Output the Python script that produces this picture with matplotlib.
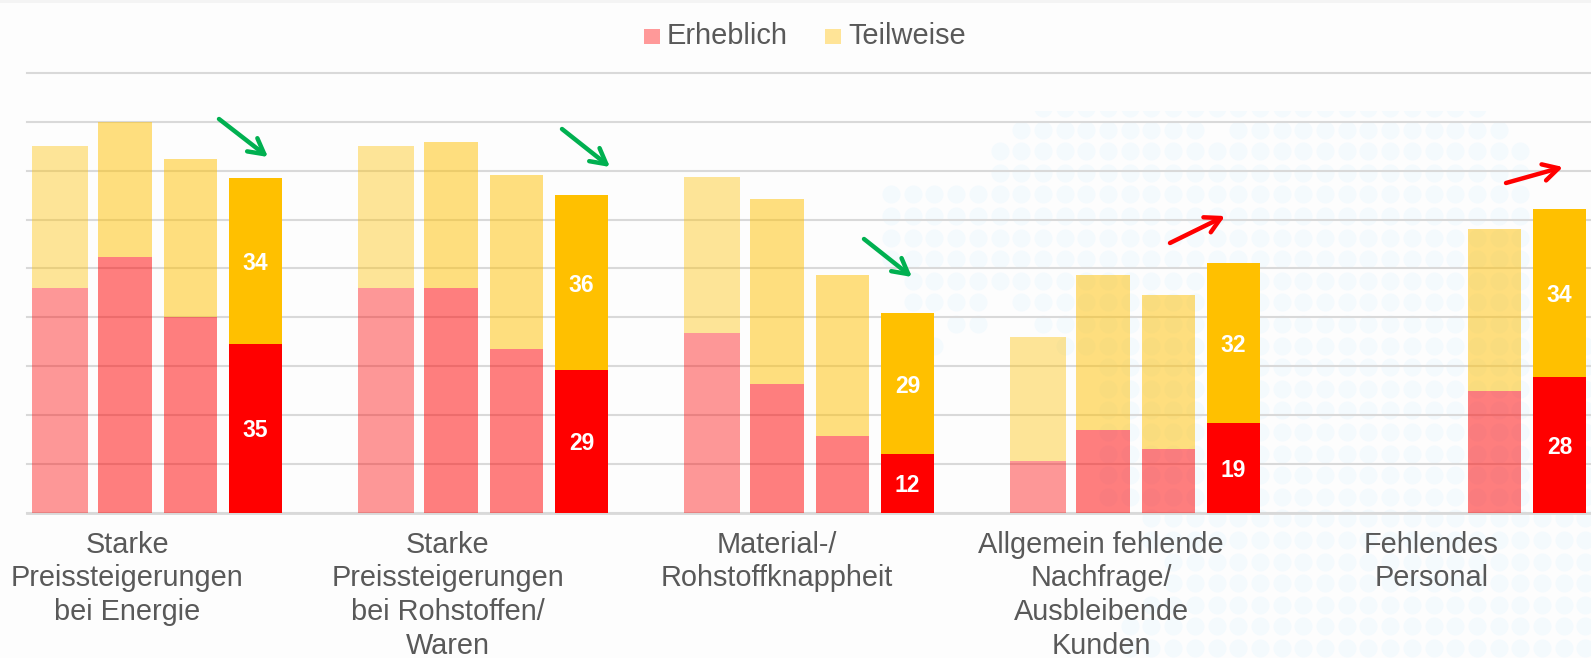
import numpy as np
import matplotlib
matplotlib.use("Agg")
import matplotlib.pyplot as plt
from matplotlib.patches import Rectangle

plt.rcParams['font.family'] = ['Liberation Sans', 'DejaVu Sans']

W, H = 1591, 658
TEXT = '#595959'
GRID = '#d9d9d9'

categories = ['Starke\nPreissteigerungen\nbei Energie',
              'Starke\nPreissteigerungen\nbei Rohstoffen/\nWaren',
              'Material-/\nRohstoffknappheit',
              'Allgemein fehlende\nNachfrage/\nAusbleibende\nKunden',
              'Fehlendes\nPersonal']

# one row per category, one column per survey wave (heights)
erheblich = [[46, 52.4, 40, 34.6],
             [46, 46, 33.5, 29.1],
             [36.8, 26.3, 15.6, 11.9],
             [10.6, 16.8, 13.1, 18.4],
             [np.nan, np.nan, 24.9, 27.8]]
teilweise = [[29, 27.6, 32.4, 33.8],
             [29, 29.8, 35.6, 35.9],
             [31.9, 37.9, 33.1, 29],
             [25.4, 31.9, 31.5, 32.7],
             [np.nan, np.nan, 33.2, 34.4]]
erheblich_labels = [35, 29, 12, 19, 28]
teilweise_labels = [34, 36, 29, 32, 34]

# older waves are faded, the newest is solid
wave_alpha = [0.4, 0.5, 0.5, 1.0]
wave_width = [0.855, 0.82, 0.82, 0.82]

# trend arrows, pixels of the picture: start x, start y, end x, end y, colour
arrows = [(219, 119, 268, 157, '#00B050'),
          (562, 129, 610, 167, '#00B050'),
          (864, 239, 912, 277, '#00B050'),
          (1170, 243, 1225, 216, '#FF0000'),
          (1506, 183, 1563, 167, '#FF0000')]

# light dot map behind the chart: row y -> x spans
dot_rows = [(108, [(1042, 1190), (1219, 1300), (1325, 1474)]),
            (130, [(1022, 1210), (1235, 1496)]),
            (151, [(999, 1516)]),
            (173, [(943, 950), (999, 1516)]),
            (194, [(891, 1516)]),
            (216, [(891, 1535)]),
            (238, [(891, 1535)]),
            (259, [(891, 1535)]),
            (281, [(911, 1535)]),
            (302, [(911, 974), (1022, 1535)]),
            (324, [(956, 975), (1042, 1535)]),
            (346, [(936, 950), (1067, 1591)]),
            (367, [(1103, 1591)]),
            (389, [(1103, 1591)]),
            (410, [(1103, 1591)]),
            (432, [(1103, 1591)]),
            (454, [(1103, 1591)]),
            (475, [(1103, 1591)]),
            (497, [(1103, 1591)]),
            (518, [(1153, 1591)]),
            (540, [(1153, 1591)]),
            (562, [(1170, 1591)]),
            (583, [(1175, 1591)]),
            (605, [(1135, 1591)]),
            (626, [(1130, 1591)]),
            (648, [(1130, 1591)])]

fig = plt.figure(figsize=(W / 100, H / 100), dpi=100, facecolor='#FDFDFD')

# background layer in picture pixels
bg = fig.add_axes([0, 0, 1, 1])
bg.set_xlim(0, W)
bg.set_ylim(H, 0)
bg.axis('off')
bg.add_patch(Rectangle((0, 0), W, 3, color='#F4F4F4', lw=0))
clip = Rectangle((0, 111), W, H, transform=bg.transData)
lattice = 891 + 21.7 * np.arange(-2, 33)
for row_y, spans in dot_rows:
    for x0, x1 in spans:
        xs = lattice[(lattice >= x0 - 5) & (lattice <= x1 + 5)]
        dots = bg.scatter(xs, np.full(len(xs), row_y), s=170, color='#F4FAFD', lw=0)
        dots.set_clip_path(clip)

left, base, top = 27, 512.5, 73
ax = fig.add_axes([left / W, 1 - base / H, 1 - left / W, (base - top) / H])
ax.patch.set_alpha(0)
pitch = 65.2
first = 60
ax.set_xlim((left - first) / pitch, (W - first) / pitch)
ax.set_ylim(0, 90)

for i in range(len(categories)):
    slots = i * 5 + np.arange(4)
    for j, x in enumerate(slots):
        e, t = erheblich[i][j], teilweise[i][j]
        if np.isnan(e):
            continue
        ax.bar(x, e, width=wave_width[j], color='#FF0000', lw=0, zorder=3, alpha=wave_alpha[j])
        ax.bar(x, t, bottom=e, width=wave_width[j], color='#FFC000', lw=0, zorder=3,
               alpha=wave_alpha[j])
    x = slots[3]
    e, t = erheblich[i][3], teilweise[i][3]
    ax.text(x, e / 2, str(erheblich_labels[i]), color='white', fontsize=16.5,
            fontweight='bold', ha='center', va='center_baseline', zorder=5)
    ax.text(x, e + t / 2, str(teilweise_labels[i]), color='white', fontsize=16.5,
            fontweight='bold', ha='center', va='center_baseline', zorder=5)

ax.set_yticks(np.arange(0, 91, 10))
ax.set_yticklabels([])
ax.grid(axis='y', color=GRID, lw=1.5, zorder=1, clip_on=False)
ax.set_axisbelow(True)
ax.tick_params(length=0)
for s in ['top', 'left', 'right']:
    ax.spines[s].set_visible(False)
ax.spines['bottom'].set_color(GRID)
ax.spines['bottom'].set_linewidth(2)

# category labels sit left of the bar groups in the original
ax.set_xticks([1.03, 5.95, 11.0, 15.97, 21.03])
ax.set_xticklabels(categories, fontsize=20.8, color=TEXT, linespacing=1.26)
ax.tick_params(axis='x', pad=13)

# legend by hand to keep its exact spot
bg.add_patch(Rectangle((644, 29), 16, 15, color='#FF9999', lw=0))
bg.text(667, 36, 'Erheblich', fontsize=20.9, color=TEXT, va='center')
bg.add_patch(Rectangle((825, 29), 16, 15, color='#FFE497', lw=0))
bg.text(848, 36, 'Teilweise', fontsize=20.9, color=TEXT, va='center')

for x0, y0, x1, y1, c in arrows:
    ax.annotate('', xy=(x1, H - y1), xytext=(x0, H - y0),
                xycoords='figure pixels', textcoords='figure pixels',
                arrowprops=dict(arrowstyle='->,head_length=1.1,head_width=0.6',
                                color=c, lw=3.2, shrinkA=0, shrinkB=0), zorder=6)

fig.savefig('out.png', dpi=100, facecolor=fig.get_facecolor())
